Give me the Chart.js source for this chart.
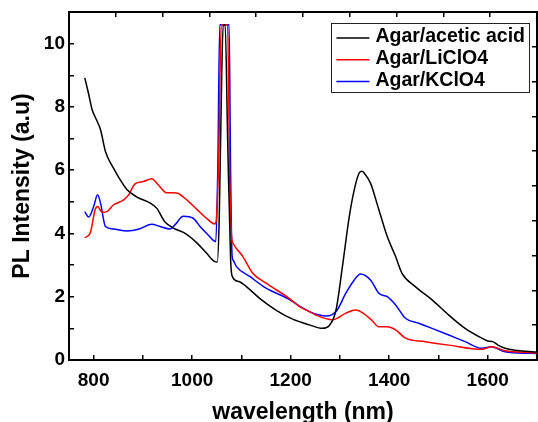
<!DOCTYPE html>
<html>
<head>
<meta charset="utf-8">
<script src="https://cdn.jsdelivr.net/npm/chart.js@4/dist/chart.umd.min.js"></script>
<style>
  body { margin: 0; background: #fff; }
  #wrap { width: 538px; height: 422px; }
</style>
</head>
<body>
<div id="wrap"><canvas id="grafico" width="538" height="422"></canvas></div>
<script>
// PL spectra (wavelength in nm, intensity in a.u.)
const acidNm  = [782, 790, 797, 805, 814, 824, 840, 867, 888, 915, 928, 945, 962, 985, 1009, 1029, 1046, 1051, 1055, 1060, 1063, 1067, 1072, 1078, 1081, 1095, 1110, 1137, 1170, 1204, 1238, 1265, 1278, 1292, 1305, 1319, 1329, 1339, 1345, 1349, 1362, 1379, 1396, 1413, 1426, 1453, 1487, 1521, 1554, 1588, 1600, 1610, 1620, 1635, 1660, 1689, 1700];
const acidVal = [8.92, 8.40, 7.91, 7.62, 7.28, 6.59, 6.07, 5.40, 5.15, 4.96, 4.80, 4.36, 4.17, 4.01, 3.71, 3.38, 3.11, 3.10, 4.5, 9.0, 10.6, 10.6, 7.0, 3.2, 2.66, 2.48, 2.32, 1.95, 1.58, 1.29, 1.11, 1.00, 1.08, 1.58, 2.95, 4.54, 5.38, 5.91, 5.97, 5.91, 5.59, 4.75, 3.90, 3.27, 2.74, 2.32, 1.90, 1.42, 1.00, 0.69, 0.60, 0.58, 0.48, 0.37, 0.30, 0.26, 0.25];

const liNm  = [782, 793, 803, 808, 817, 827, 840, 861, 871, 884, 901, 918, 931, 948, 968, 989, 1009, 1029, 1046, 1049, 1054, 1059, 1072, 1076, 1080, 1083, 1103, 1123, 1150, 1197, 1218, 1238, 1251, 1285, 1312, 1332, 1349, 1365, 1379, 1396, 1413, 1433, 1473, 1521, 1588, 1608, 1635, 1689, 1700];
const liVal = [3.87, 4.01, 4.75, 4.85, 4.67, 4.69, 4.90, 5.06, 5.22, 5.57, 5.64, 5.73, 5.54, 5.29, 5.28, 5.06, 4.77, 4.48, 4.30, 4.43, 6.5, 10.6, 10.6, 6.0, 3.9, 3.69, 3.27, 2.74, 2.43, 1.95, 1.69, 1.53, 1.42, 1.27, 1.48, 1.58, 1.46, 1.25, 1.05, 1.05, 0.95, 0.69, 0.58, 0.47, 0.34, 0.42, 0.29, 0.23, 0.22];

const kNm  = [782, 790, 800, 808, 814, 824, 840, 868, 894, 918, 935, 955, 965, 982, 1002, 1016, 1032, 1048, 1052, 1056, 1075, 1078, 1081, 1083, 1090, 1117, 1150, 1197, 1218, 1238, 1258, 1272, 1292, 1312, 1329, 1342, 1362, 1379, 1396, 1413, 1433, 1460, 1487, 1521, 1554, 1588, 1608, 1635, 1689, 1700];
const kVal = [4.69, 4.52, 4.85, 5.22, 4.96, 4.22, 4.14, 4.08, 4.15, 4.29, 4.22, 4.14, 4.27, 4.54, 4.48, 4.22, 3.96, 3.74, 6.0, 10.6, 10.6, 6.0, 3.3, 3.16, 2.95, 2.64, 2.27, 1.92, 1.70, 1.53, 1.42, 1.39, 1.53, 2.11, 2.53, 2.72, 2.53, 2.11, 2.00, 1.74, 1.32, 1.16, 1.00, 0.79, 0.58, 0.37, 0.42, 0.26, 0.21, 0.20];

const seriesLabels = ['Agar/acetic acid', 'Agar/LiClO4', 'Agar/KClO4'];
const seriesColors = ['#000000', '#ff0000', '#0000ff'];

const FONT = '"Liberation Sans", Arial, sans-serif';

function pares(xs, ys) {
  return xs.map((x, i) => ({ x, y: ys[i] }));
}

function serie(i, xs, ys) {
  return { label: seriesLabels[i], data: pares(xs, ys), borderColor: seriesColors[i], borderWidth: 1.5, pointRadius: 0, cubicInterpolationMode: 'monotone', fill: false };
}

// fixed frame: no extra padding for half labels
function fixarEixo(prop, valor) {
  return s => {
    s[prop] = valor;
    s.paddingLeft = s.paddingRight = s.paddingTop = s.paddingBottom = 0;
  };
}

// legend box drawn inside the plot, top right (Origin style)
const caixaLegenda = {
  id: 'caixaLegenda',
  afterDraw(chart) {
    const { ctx, chartArea } = chart;
    ctx.save();
    ctx.font = 'bold 19.5px ' + FONT;
    const sets = chart.data.datasets;
    const textoW = Math.max(...sets.map(d => ctx.measureText(d.label).width));
    const rowH = 21.7;
    const w = 44 + textoW + 4;
    const h = 15 + (sets.length - 1) * rowH + 11;
    const right = chartArea.right - 8, top = chartArea.top + 11;
    const left = right - w;
    ctx.fillStyle = '#fff';
    ctx.fillRect(left, top, w, h);
    ctx.strokeStyle = '#222';
    ctx.lineWidth = 1;
    ctx.strokeRect(Math.round(left) + 0.5, Math.round(top) + 0.5, Math.round(w), Math.round(h));
    sets.forEach((d, i) => {
      const y = top + 15 + i * rowH;
      ctx.strokeStyle = d.borderColor;
      ctx.lineWidth = 1.5;
      ctx.beginPath(); ctx.moveTo(left + 5, y); ctx.lineTo(left + 38, y); ctx.stroke();
      ctx.fillStyle = '#000';
      ctx.textBaseline = 'middle';
      ctx.fillText(d.label, left + 44, y - 1);
    });
    ctx.restore();
  }
};

const eixoBorda = { color: '#000', width: 2 };
const eixoGrade = { drawOnChartArea: false, drawTicks: true, tickLength: -5, color: '#000', lineWidth: 1.5 };

new Chart(document.getElementById('grafico').getContext('2d'), {
  type: 'line',
  data: {
    datasets: [serie(0, acidNm, acidVal), serie(1, liNm, liVal), serie(2, kNm, kVal)]
  },
  options: {
    responsive: false, animation: false,
    layout: { padding: 0 },
    plugins: { legend: { display: false }, tooltip: { enabled: false } },
    scales: {
      x: {
        type: 'linear', position: 'bottom', min: 750, max: 1700,
        border: eixoBorda, grid: eixoGrade,
        ticks: { stepSize: 100, includeBounds: false, autoSkip: false, maxRotation: 0, padding: 14, color: '#000', font: { family: FONT, size: 19, weight: 'bold' }, callback: v => v % 200 === 0 ? v : '' },
        title: { display: true, text: 'wavelength (nm)', color: '#000', font: { family: FONT, size: 23, weight: 'bold', lineHeight: 1 }, padding: { top: 0, bottom: -2 } },
        afterFit: fixarEixo('height', 62)
      },
      x2: {
        type: 'linear', position: 'top', min: 0, max: 10,
        border: eixoBorda, grid: eixoGrade,
        ticks: { display: false, stepSize: 1 },
        afterFit: fixarEixo('height', 12)
      },
      y: {
        type: 'linear', position: 'left', min: 0, max: 11,
        border: eixoBorda, grid: eixoGrade,
        ticks: { stepSize: 1, autoSkip: false, padding: 9, color: '#000', font: { family: FONT, size: 19, weight: 'bold' }, callback: v => v % 2 === 0 ? v : '' },
        title: { display: true, text: 'PL Intensity (a.u)', color: '#000', font: { family: FONT, size: 23, weight: 'bold', lineHeight: 1 }, padding: { top: 11, bottom: 0 } },
        afterFit: fixarEixo('width', 69)
      },
      y2: {
        type: 'linear', position: 'right', min: 0, max: 10,
        border: eixoBorda, grid: eixoGrade,
        ticks: { display: false, stepSize: 1 },
        afterFit: fixarEixo('width', 1)
      }
    }
  },
  plugins: [caixaLegenda]
});
</script>
</body>
</html>
